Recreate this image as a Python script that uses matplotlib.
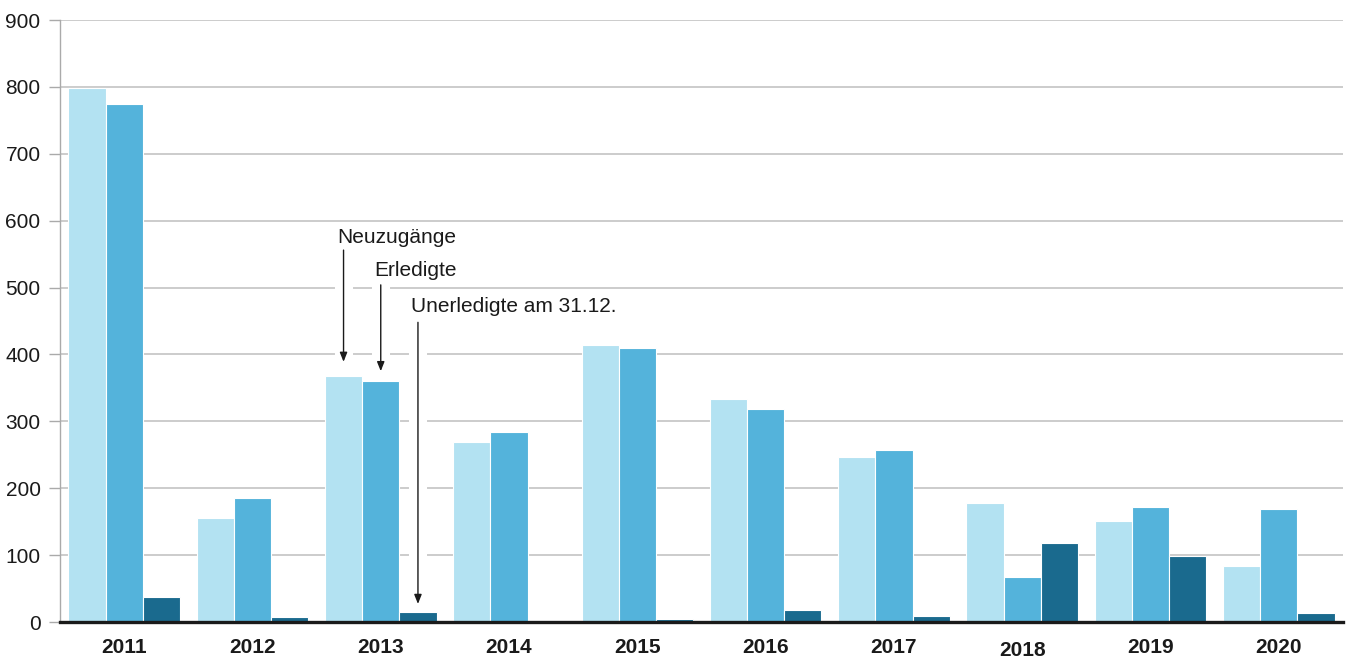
#!/usr/bin/env python3
import numpy as np
import matplotlib
matplotlib.use("Agg")
import matplotlib.pyplot as plt
from matplotlib.transforms import blended_transform_factory

plt.rcParams["font.family"] = ["Liberation Sans", "DejaVu Sans"]

years = ["2011", "2012", "2013", "2014", "2015", "2016", "2017", "2018", "2019", "2020"]
neuzugaenge = [798, 155, 368, 269, 414, 333, 247, 178, 151, 84]
erledigte = [774, 185, 360, 284, 410, 318, 257, 67, 172, 169]
unerledigte = [37, 7, 15, 0, 4, 18, 9, 118, 99, 13]

C_LIGHT = "#b3e2f2"
C_MID = "#54b3db"
C_DARK = "#1a6a8e"

fig = plt.figure(figsize=(13.51, 6.58), dpi=100)
ax = fig.add_axes([60 / 1351, 1 - 622 / 658, 1283 / 1351, 602 / 658])

x = np.arange(len(years))
w = 0.29
ax.bar(x - w, neuzugaenge, w, color=C_LIGHT, edgecolor="white", linewidth=0.8, zorder=3)
ax.bar(x, erledigte, w, color=C_MID, edgecolor="white", linewidth=0.8, zorder=3)
ax.bar(x + w, unerledigte, w, color=C_DARK, edgecolor="white", linewidth=0.8, zorder=3)

ax.set_xlim(-0.5, len(years) - 0.5)
ax.set_ylim(0, 900)
ax.set_yticks(range(0, 1000, 100))
ax.tick_params(axis="y", labelsize=15, length=8, width=1, color="#aaaaaa", pad=6,
               labelcolor="#1a1a1a")
ax.yaxis.grid(True, color="#c4c4c4", linewidth=1.2)
ax.set_axisbelow(True)

ax.set_xticks([])
trans = blended_transform_factory(ax.transData, ax.transAxes)
for i, yr in enumerate(years):
    # 2018 sitzt im Original etwas tiefer
    dy = -0.047 if yr == "2018" else -0.043
    ax.text(x[i], dy, yr, transform=trans, ha="center", va="center",
            fontsize=15, fontweight="bold", color="#1a1a1a")

for s in ["top", "right"]:
    ax.spines[s].set_visible(False)
ax.spines["left"].set_color("#aaaaaa")
ax.spines["left"].set_linewidth(1)
ax.spines["bottom"].set_color("#1a1a1a")
ax.spines["bottom"].set_linewidth(2.4)
ax.spines["bottom"].set_zorder(4)

# Beschriftung mit Pfeilen an der Gruppe 2013
i13 = years.index("2013")
labels = [
    ("Neuzugänge", x[i13] - w, 575, 556, 389, -0.051),
    ("Erledigte", x[i13], 526, 504, 375, -0.053),
    ("Unerledigte am 31.12.", x[i13] + w, 471, 448, 27, -0.055),
]
for txt, xb, ytxt, ytail, ytip, dx in labels:
    # weisser Streifen unterbricht die Gitterlinien
    ax.plot([xb, xb], [ytip - 4, ytail], color="white", lw=13,
            solid_capstyle="butt", zorder=1.5)
    ax.annotate("", xy=(xb, ytip), xytext=(xb, ytail),
                arrowprops=dict(arrowstyle="-|>,head_length=0.55,head_width=0.22",
                                color="#1a1a1a", lw=1, shrinkA=0, shrinkB=0),
                zorder=2)
    ax.text(xb + dx, ytxt, txt, ha="left", va="center", fontsize=15, color="#1a1a1a", zorder=5)

fig.savefig("out.png", dpi=100)
